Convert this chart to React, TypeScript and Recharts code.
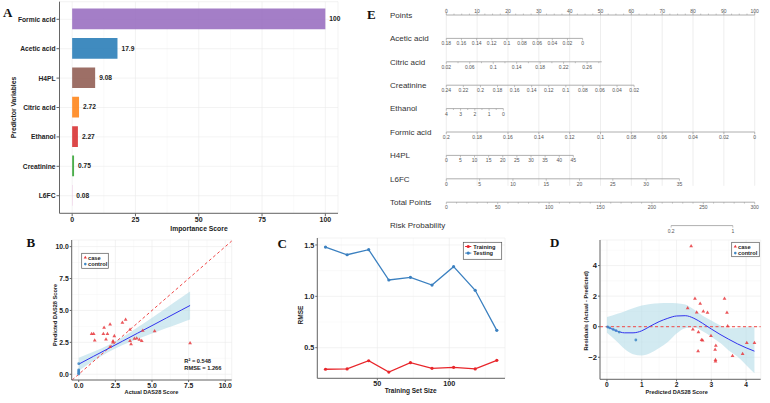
import React from 'react';
import {
  Bar,
  BarChart,
  CartesianGrid,
  Cell,
  ComposedChart,
  LabelList,
  Line,
  LineChart,
  Area,
  ReferenceLine,
  Scatter,
  XAxis,
  YAxis,
} from 'recharts';

const FONT = 'Arial, "Liberation Sans", Helvetica, sans-serif';
const SERIF = '"Times New Roman", "Liberation Serif", serif';

// --- A: variable importance ---
const predictors = ['Formic acid', 'Acetic acid', 'H4PL', 'Citric acid', 'Ethanol', 'Creatinine', 'L6FC'];
const importance = [100, 17.9, 9.08, 2.72, 2.27, 0.75, 0.08];
const predictorColors = ['#9467bd', '#1f77b4', '#8c564b', '#ff7f0e', '#d62728', '#2ca02c', '#e377c2'];
const importanceTicks = [0, 25, 50, 75, 100];
const importanceMinor = [12.5, 37.5, 62.5, 87.5];

// --- B: predicted vs actual ---
const caseActual = [0.88, 1.02, 1.09, 1.73, 1.68, 1.96, 1.86, 2.14, 2.43, 2.34, 2.34, 2.14, 2.98, 3.2, 3.5, 3.5, 3.57, 3.8, 3.96, 4.14, 4.3, 4.37, 5.18, 7.6];
const casePredicted = [3.16, 3.16, 2.66, 3.65, 3.16, 3.16, 2.74, 3.92, 3.0, 2.59, 2.51, 2.14, 4.04, 4.28, 3.5, 2.61, 2.37, 2.79, 2.82, 2.71, 2.61, 3.42, 3.39, 2.45];
const controlActual = [0, 0, 0, 0, 0, 0];
const controlPredicted = [0.83, 0.35, 0.26, 0.18, 0.08, 0.02];
const fitX = [0, 1, 2, 3, 4, 5, 6, 7, 7.6];
const fitY = [0.79, 1.4, 2.0, 2.6, 3.21, 3.81, 4.42, 5.03, 5.39];
const fitLower = [0.28, 1.04, 1.73, 2.29, 2.76, 3.19, 3.62, 4.04, 4.29];
const fitUpper = [1.3, 1.76, 2.27, 2.91, 3.66, 4.43, 5.22, 6.02, 6.49];
const scoreTicks = [0, 2.5, 5, 7.5, 10];
const scoreMinor = [1.25, 3.75, 6.25, 8.75];

// --- C: learning curve ---
const trainSizes = [14, 29, 44, 58, 73, 88, 103, 118, 133];
const trainRmse = [0.29, 0.293, 0.373, 0.263, 0.354, 0.299, 0.309, 0.293, 0.377];
const testRmse = [1.48, 1.405, 1.454, 1.159, 1.185, 1.11, 1.289, 1.059, 0.669];
const rmseTicks = [0.5, 1.0, 1.5];
const rmseMinor = [0.75, 1.25];
const sizeTicks = [50, 100];
const sizeMinor = [25, 75, 125];

// --- D: residuals ---
const resCasePred = [2.42, 2.53, 2.32, 2.68, 2.58, 2.77, 2.89, 3.38, 3.45, 3.47, 2.47, 2.63, 2.72, 2.75, 2.99, 3.13, 3.11, 2.62, 3.12, 3.12, 3.61, 3.9, 4.02, 4.24];
const resCaseValue = [5.27, 1.84, 1.22, 1.51, 0.94, 1.01, 0.92, 1.84, 0.92, 0.04, -0.18, -0.35, -0.86, -0.9, -0.6, -1.23, -1.49, -1.6, -2.17, -2.26, -1.91, -1.78, -1.06, -1.06];
const resControlPred = [0.02, 0.08, 0.18, 0.26, 0.35, 0.83];
const resControlValue = [-0.02, -0.08, -0.18, -0.26, -0.35, -0.87];
const loessX = [0, 0.3, 0.5, 0.75, 1, 1.25, 1.5, 1.75, 2, 2.25, 2.5, 2.75, 3, 3.25, 3.5, 3.75, 4, 4.24];
const loessFit = [0, -0.29, -0.4, -0.4, -0.27, 0.04, 0.33, 0.55, 0.7, 0.72, 0.55, 0.22, -0.15, -0.5, -0.82, -1.12, -1.38, -1.6];
const loessLower = [-0.4, -1.0, -1.45, -1.8, -1.88, -1.72, -1.4, -1.0, -0.45, -0.1, -0.03, -0.3, -0.65, -1.05, -1.55, -1.95, -2.5, -3.05];
const loessUpper = [0.63, 0.85, 1.0, 1.2, 1.38, 1.48, 1.53, 1.55, 1.53, 1.45, 1.12, 0.72, 0.4, 0.1, -0.1, -0.08, -0.03, -0.03];
const predTicks = [0, 1, 2, 3, 4];
const predMinor = [0.5, 1.5, 2.5, 3.5];
const residTicks = [-2, 0, 2, 4];
const residMinor = [-3, -1, 1, 3, 5];

// --- E: nomogram ---
const nomoRows = ['Points', 'Acetic acid', 'Citric acid', 'Creatinine', 'Ethanol', 'Formic acid', 'H4PL', 'L6FC', 'Total Points', 'Risk Probability'];
const pointsLabels = [0, 10, 20, 30, 40, 50, 60, 70, 80, 90, 100];
const aceticLabels = [0.18, 0.16, 0.14, 0.12, 0.1, 0.08, 0.06, 0.04, 0.02, 0];
const citricLabels = [0.02, 0.06, 0.1, 0.14, 0.18, 0.22, 0.26];
const creatinineLabels = [0.24, 0.22, 0.2, 0.18, 0.16, 0.14, 0.12, 0.1, 0.08, 0.06, 0.04, 0.02];
const ethanolLabels = [4, 3, 2, 1, 0];
const formicLabels = [0.2, 0.18, 0.16, 0.14, 0.12, 0.1, 0.08, 0.06, 0.04, 0.02, 0];
const h4plLabels = [0, 5, 10, 15, 20, 25, 30, 35, 40, 45];
const l6fcLabels = [0, 5, 10, 15, 20, 25, 30, 35];
const totalLabels = [0, 50, 100, 150, 200, 250, 300];
const riskLabels = [0.2, 1];
// value at each end of a scale, and where those ends sit on the Points axis
const valueSpans = [[0, 100], [0.18, 0], [0.02, 0.285], [0.24, 0.02], [4, 0], [0.2, 0], [0, 45], [0, 35], [0, 300], [0.2, 1]];
const pointSpans = [[0, 100], [0, 44.2], [0, 50.4], [0, 60.9], [0, 18.5], [0, 100], [0, 41.2], [0, 75.6], [0, 100], [72.9, 92.9]];

const seq = (a: number, b: number, step: number) => {
  const out: number[] = [];
  const n = Math.round((b - a) / step);
  for (let i = 0; i <= n; i++) out.push(+(a + i * step).toFixed(4));
  return out;
};

const rowLabels = [pointsLabels, aceticLabels, citricLabels, creatinineLabels, ethanolLabels, formicLabels, h4plLabels, l6fcLabels, totalLabels, riskLabels];
const rowMinor = [seq(0, 100, 2.5), [], seq(0.02, 0.28, 0.02), [], seq(0, 4, 0.5), [], [], [], seq(0, 300, 10), []];

const toPoints = (row: number, v: number) => {
  const [v0, v1] = valueSpans[row];
  const [p0, p1] = pointSpans[row];
  return p0 + ((v - v0) / (v1 - v0)) * (p1 - p0);
};

const nomoTicks = rowLabels.flatMap((labels, row) => [
  ...rowMinor[row]
    .filter((v) => !labels.includes(v))
    .map((v) => ({ x: toPoints(row, v), y: row, text: '', up: row === 0 })),
  ...labels.map((v) => ({ x: toPoints(row, v), y: row, text: String(v), up: row === 0 })),
]);

const importanceRows = predictors.map((name, i) => ({ name, value: importance[i], color: predictorColors[i] }));
const casePoints = caseActual.map((x, i) => ({ x, y: casePredicted[i] }));
const controlPoints = controlActual.map((x, i) => ({ x, y: controlPredicted[i] }));
const calBand = fitX.map((x, i) => ({ x, fit: fitY[i], band: [fitLower[i], fitUpper[i]] }));
const curveRows = trainSizes.map((n, i) => ({ n, train: trainRmse[i], test: testRmse[i] }));
const resCasePoints = resCasePred.map((x, i) => ({ x, y: resCaseValue[i] }));
const resControlPoints = resControlPred.map((x, i) => ({ x, y: resControlValue[i] }));
const loessBand = loessX.map((x, i) => ({ x, fit: loessFit[i], band: [loessLower[i], loessUpper[i]] }));

const RED = '#e8393e';
const BLUE = '#3f88c5';
const FIT = '#3232ee';
const RIBBON = '#add8e6';
const GRID = '#ebebeb';
const MINOR = '#f4f4f4';
const AXIS = '#666';

const tickBold = (size: number) => ({ fontSize: size, fontWeight: 700, fill: '#222', fontFamily: FONT });
const fmt1 = (v: number) => v.toFixed(1);
const fmtMinus = (v: number) => (v < 0 ? `\u2212${-v}` : String(v));

const triangle = (cx: number, cy: number, r = 2.1) =>
  `M${cx},${cy - r}L${cx + r * 0.9},${cy + r * 0.55}L${cx - r * 0.9},${cy + r * 0.55}Z`;

const CaseMark = (p: any) => <path d={triangle(p.cx, p.cy)} fill={RED} fillOpacity={0.85} />;
const ControlMark = (p: any) => <circle cx={p.cx} cy={p.cy} r={1.4} fill={BLUE} fillOpacity={0.85} />;

const CategoryTick = (p: any) => (
  <text x={p.x} y={p.y} dy={2.4} textAnchor="end" {...tickBold(6.7)}>
    {p.payload.value}
  </text>
);

const NomoTick = (p: any) => {
  const { cx, cy, payload } = p;
  const dir = payload.up ? -1 : 1;
  const len = payload.text ? 2 : 1.4;
  return (
    <g>
      <line x1={cx} y1={cy} x2={cx} y2={cy + dir * len} stroke="#9a9a9a" strokeWidth={0.6} />
      {payload.text && (
        <text x={cx} y={payload.up ? cy - 2.3 : cy + 7} textAnchor="middle" fontSize={5} fill="#555" fontFamily={FONT}>
          {payload.text}
        </text>
      )}
    </g>
  );
};

const NomoRowName = (p: any) => (
  <text x={10} y={p.y} dy={2.8} fontSize={8} fill="#333" fontFamily={FONT}>
    {nomoRows[p.payload.value]}
  </text>
);

function ImportancePanel() {
  return (
    <BarChart width={345} height={235} layout="vertical" data={importanceRows} margin={{ top: 1.7, right: 7, bottom: 0, left: 0 }}>
      <CartesianGrid stroke={MINOR} strokeWidth={0.5} horizontal={false} verticalValues={importanceMinor} />
      <CartesianGrid stroke={GRID} strokeWidth={0.6} />
      <XAxis type="number" domain={[-5, 105]} ticks={importanceTicks} allowDataOverflow height={21.7}
        tick={tickBold(7)} tickSize={3} tickMargin={1} stroke={AXIS} />
      <YAxis type="category" dataKey="name" width={59.5} padding={{ top: 2.9, bottom: 2.9 }} interval={0}
        tick={CategoryTick} tickSize={3} tickMargin={1} stroke={AXIS} />
      <Bar dataKey="value" barSize={20.7} isAnimationActive={false}>
        {importanceRows.map((r) => (
          <Cell key={r.name} fill={r.color} fillOpacity={0.85} />
        ))}
        <LabelList dataKey="value" position="right" offset={4}
          style={{ fontSize: 6.6, fontWeight: 700, fill: '#222', fontFamily: FONT }} />
      </Bar>
    </BarChart>
  );
}

function CalibrationPanel() {
  return (
    <ComposedChart width={245} height={178} margin={{ top: 15, right: 13.3, bottom: 0, left: 0 }}>
      <CartesianGrid stroke={MINOR} strokeWidth={0.5} verticalValues={scoreMinor} horizontalValues={scoreMinor} />
      <CartesianGrid stroke={GRID} strokeWidth={0.6} />
      <XAxis type="number" dataKey="x" domain={[-0.48, 10.44]} ticks={scoreTicks} tickFormatter={fmt1}
        allowDataOverflow height={23} tick={tickBold(6.8)} tickSize={2} tickMargin={1} stroke={AXIS} />
      <YAxis type="number" dataKey="y" domain={[-0.45, 10.52]} ticks={scoreTicks} tickFormatter={fmt1}
        allowDataOverflow width={71.7} tick={tickBold(6.8)} tickSize={2} tickMargin={1} stroke={AXIS} />
      <Area data={calBand} dataKey="band" type="monotone" stroke="none" fill={RIBBON} fillOpacity={0.55} isAnimationActive={false} />
      <ReferenceLine segment={[{ x: -0.45, y: -0.45 }, { x: 10.44, y: 10.44 }]} stroke="#f04848" strokeWidth={1} strokeDasharray="3 2.5" />
      <Scatter data={casePoints} shape={CaseMark} isAnimationActive={false} />
      <Scatter data={controlPoints} shape={ControlMark} isAnimationActive={false} />
      <Line data={calBand} dataKey="fit" type="linear" stroke={FIT} strokeWidth={1} dot={false} isAnimationActive={false} />
    </ComposedChart>
  );
}

function LearningCurvePanel() {
  return (
    <LineChart width={262} height={178} data={curveRows} margin={{ top: 13, right: 7, bottom: 0, left: 0 }}>
      <CartesianGrid stroke={MINOR} strokeWidth={0.5} verticalValues={sizeMinor} horizontalValues={rmseMinor} />
      <CartesianGrid stroke={GRID} strokeWidth={0.6} />
      <XAxis type="number" dataKey="n" domain={[8.3, 138.7]} ticks={sizeTicks} allowDataOverflow height={24.7}
        tick={tickBold(7.2)} tickSize={2} tickMargin={1} stroke={AXIS} />
      <YAxis type="number" domain={[0.202, 1.568]} ticks={rmseTicks} tickFormatter={fmt1} allowDataOverflow width={67.3}
        tick={tickBold(7.2)} tickSize={2} tickMargin={1} stroke={AXIS} />
      <Line dataKey="train" stroke="#e8262b" strokeWidth={1.3} dot={{ r: 1.6, fill: '#e8262b', stroke: 'none' }} isAnimationActive={false} />
      <Line dataKey="test" stroke="#3b80c0" strokeWidth={1.3} dot={{ r: 1.6, fill: '#3b80c0', stroke: 'none' }} isAnimationActive={false} />
    </LineChart>
  );
}

function ResidualPanel() {
  return (
    <ComposedChart width={260} height={178} margin={{ top: 15, right: 9.3, bottom: 0, left: 0 }}>
      <CartesianGrid stroke={MINOR} strokeWidth={0.5} verticalValues={predMinor} horizontalValues={residMinor} />
      <CartesianGrid stroke={GRID} strokeWidth={0.6} />
      <XAxis type="number" dataKey="x" domain={[-0.2, 4.42]} ticks={predTicks} allowDataOverflow height={23.7}
        tick={tickBold(6.6)} tickSize={2} tickMargin={1} stroke={AXIS} />
      <YAxis type="number" dataKey="y" domain={[-3.44, 5.67]} ticks={residTicks} tickFormatter={fmtMinus} allowDataOverflow width={90}
        tick={tickBold(7.6)} tickSize={2} tickMargin={1} stroke={AXIS} />
      <Area data={loessBand} dataKey="band" type="monotone" stroke="none" fill={RIBBON} fillOpacity={0.55} isAnimationActive={false} />
      <ReferenceLine y={0} stroke="#f04848" strokeWidth={1} strokeDasharray="3 2.5" />
      <Scatter data={resCasePoints} shape={CaseMark} isAnimationActive={false} />
      <Scatter data={resControlPoints} shape={ControlMark} isAnimationActive={false} />
      <Line data={loessBand} dataKey="fit" type="monotone" stroke={FIT} strokeWidth={1} dot={false} isAnimationActive={false} />
    </ComposedChart>
  );
}

function NomogramPanel() {
  return (
    <ComposedChart width={390} height={240} margin={{ top: 3.3, right: 15.3, bottom: 2.7, left: 0 }}>
      <XAxis type="number" dataKey="x" domain={[0, 100]} hide />
      <YAxis type="number" dataKey="y" domain={[-0.5, 9.5]} reversed width={66.3}
        ticks={nomoRows.map((_, i) => i)} interval={0} axisLine={false} tickLine={false} tick={NomoRowName} />
      {pointsLabels.map((v) => (
        <ReferenceLine key={'g' + v} segment={[{ x: v, y: -0.3 }, { x: v, y: 7.3 }]} stroke="#e6e6e6" strokeWidth={0.7} />
      ))}
      {pointSpans.map(([p0, p1], row) => (
        <ReferenceLine key={'r' + row} segment={[{ x: p0, y: row }, { x: p1, y: row }]} stroke="#9a9a9a" strokeWidth={0.8} />
      ))}
      <Scatter data={nomoTicks} shape={NomoTick} isAnimationActive={false} />
    </ComposedChart>
  );
}

const titleStyle = { fontWeight: 700, fill: '#222', fontFamily: FONT } as const;

function Title({ x, y, size, text, vertical }: { x: number; y: number; size: number; text: string; vertical?: boolean }) {
  return (
    <text x={x} y={y} fontSize={size} textAnchor="middle" dominantBaseline="central" style={titleStyle}
      transform={vertical ? `rotate(-90 ${x} ${y})` : undefined}>
      {text}
    </text>
  );
}

function LegendBox({ x, y, w, h, items }: { x: number; y: number; w: number; h: number; items: { label: string; color: string; mark: string }[] }) {
  return (
    <g>
      <rect x={x} y={y} width={w} height={h} fill="#fff" stroke="#555" strokeWidth={0.7} />
      {items.map((it, i) => {
        const cy = y + 4.2 + i * 6.6;
        const sx = x + 3.6;
        return (
          <g key={it.label}>
            {it.mark === 'tri' && <path d={triangle(sx, cy, 1.8)} fill={it.color} />}
            {it.mark === 'dot' && <circle cx={sx} cy={cy} r={1.3} fill={it.color} />}
            {it.mark === 'line' && (
              <g>
                <line x1={x + 1.8} y1={cy} x2={x + 8} y2={cy} stroke={it.color} strokeWidth={1} />
                <circle cx={x + 4.9} cy={cy} r={1.6} fill={it.color} />
              </g>
            )}
            <text x={it.mark === 'line' ? x + 10 : x + 6.3} y={cy} dy={2} fontSize={5.7} style={titleStyle}>
              {it.label}
            </text>
          </g>
        );
      })}
    </g>
  );
}

function Overlay() {
  const letter = { fontSize: 13, fontWeight: 700, fill: '#111', fontFamily: SERIF } as const;
  return (
    <svg width={770} height={403} style={{ position: 'absolute', left: 0, top: 0, pointerEvents: 'none' }}>
      <text x={3} y={17} style={letter}>A</text>
      <text x={26.5} y={247} style={letter}>B</text>
      <text x={277.5} y={247.5} style={letter}>C</text>
      <text x={550} y={247} style={letter}>D</text>
      <text x={367} y={19} style={letter}>E</text>

      <Title x={199} y={228} size={6.8} text="Importance Score" />
      <Title x={13.7} y={107.5} size={6.8} text="Predictor Variables" vertical />
      <Title x={151.5} y={391.7} size={5.6} text="Actual DAS28 Score" />
      <Title x={55} y={315} size={5.6} text="Predicted DAS28 Score" vertical />
      <Title x={410.7} y={390} size={6.5} text="Training Set Size" />
      <Title x={300} y={315} size={6.5} text="RMSE" vertical />
      <Title x={676.7} y={392.3} size={5.6} text="Predicted DAS28 Score" />
      <Title x={586} y={310.8} size={5.6} text="Residuals (Actual - Predicted)" vertical />

      <text x={184.3} y={362.5} fontSize={5.7} style={titleStyle}>R² = 0.548</text>
      <text x={184.3} y={370} fontSize={5.7} style={titleStyle}>RMSE = 1.266</text>

      <LegendBox x={81.7} y={253.3} w={26.6} h={15}
        items={[{ label: 'case', color: RED, mark: 'tri' }, { label: 'control', color: BLUE, mark: 'dot' }]} />
      <LegendBox x={463.3} y={242.3} w={38.4} h={17}
        items={[{ label: 'Training', color: '#e8262b', mark: 'line' }, { label: 'Testing', color: '#3b80c0', mark: 'line' }]} />
      <LegendBox x={731.7} y={242.3} w={27.6} h={14.4}
        items={[{ label: 'case', color: RED, mark: 'tri' }, { label: 'control', color: BLUE, mark: 'dot' }]} />
    </svg>
  );
}

export default function App() {
  return (
    <div style={{ position: 'absolute', left: 0, top: 0, width: 770, height: 403, background: '#fff', overflow: 'hidden', fontFamily: FONT }}>
      <div style={{ position: 'absolute', left: 0, top: 0 }}>
        <ImportancePanel />
      </div>
      <div style={{ position: 'absolute', left: 380, top: 0 }}>
        <NomogramPanel />
      </div>
      <div style={{ position: 'absolute', left: 0, top: 225 }}>
        <CalibrationPanel />
      </div>
      <div style={{ position: 'absolute', left: 250, top: 225 }}>
        <LearningCurvePanel />
      </div>
      <div style={{ position: 'absolute', left: 510, top: 225 }}>
        <ResidualPanel />
      </div>
      <Overlay />
    </div>
  );
}
